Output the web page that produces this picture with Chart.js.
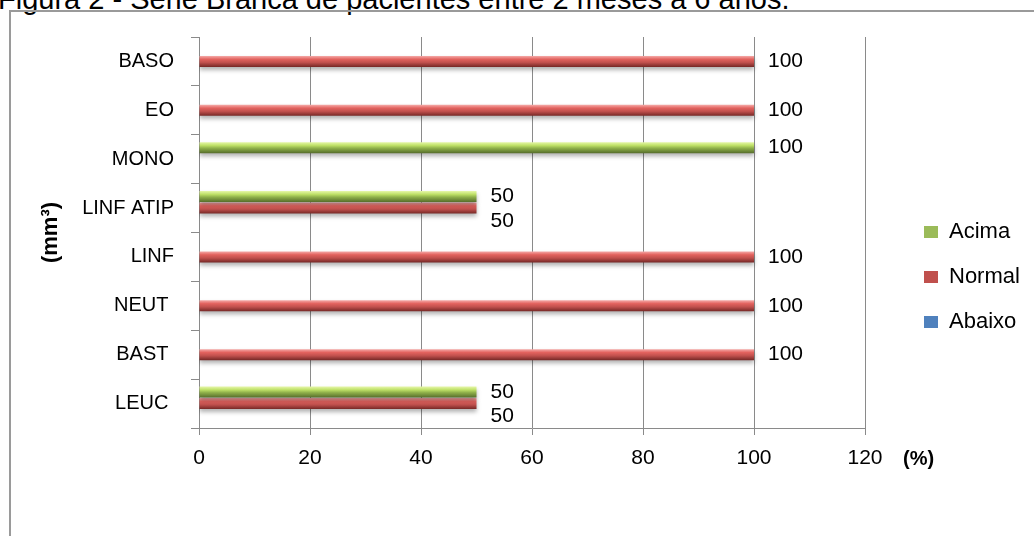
<!DOCTYPE html>
<html>
<head>
<meta charset="utf-8">
<script src="https://cdn.jsdelivr.net/npm/chart.js@4.4.1/dist/chart.umd.min.js"></script>
<style>
  html, body { margin: 0; padding: 0; background: #fff; width: 1034px; height: 536px; overflow: hidden; }
  #wrap { position: relative; width: 1034px; height: 536px; overflow: hidden; }
  #caption { position: absolute; left: -2px; top: -15px; font: 29px/29px 'Liberation Sans', Arial, sans-serif; color: #000; white-space: nowrap; }
  #frame { position: absolute; left: 9px; top: 10px; width: 1100px; height: 600px; border: 2px solid #9a9a9a; box-sizing: border-box; }
  #chart { position: absolute; left: 0; top: 0; }
</style>
</head>
<body>
<div id="wrap">
  <div id="caption">Figura 2 - Série Branca de pacientes entre 2 meses a 6 anos.</div>
  <div id="frame"></div>
  <canvas id="chart" width="1034" height="536"></canvas>
</div>
<script>
// Categories (top to bottom) and the percentage of patients in each range
const categories = ['BASO', 'EO', 'MONO', 'LINF ATIP', 'LINF', 'NEUT ', 'BAST ', 'LEUC '];
const acima  = [null, null, 100, 50, null, null, null, 50];
const normal = [100, 100, null, 50, 100, 100, 100, 50];
const abaixo = [null, null, null, null, null, null, null, null];
const seriesNames = ['Acima', 'Normal', 'Abaixo'];
const axisMin = 0, axisMax = 120, axisStep = 20;

const FONT = "'Liberation Sans', Arial, sans-serif";
Chart.defaults.font.family = FONT;
Chart.defaults.color = '#000';

const GRID = '#8a8a8a';

// cylinder-like shading for each series
const shades = {
  Acima:  [[0, '#e6f7a8'], [0.3, '#bddf66'], [0.55, '#8fb04a'], [1, '#566d2b']],
  Normal: [[0, '#f5aaa8'], [0.3, '#e2625e'], [0.6, '#c0504d'], [1, '#762826']],
  Abaixo: [[0, '#a9c6ec'], [0.3, '#5d8fd0'], [0.6, '#4f81bd'], [1, '#2b4c7a']]
};

const barStyle = {
  id: 'barStyle',
  beforeDatasetsDraw(chart) {
    const ctx = chart.ctx;
    chart.data.datasets.forEach((ds, di) => {
      const meta = chart.getDatasetMeta(di);
      meta.data.forEach(el => {
        const half = el.height / 2;
        const g = ctx.createLinearGradient(0, el.y - half, 0, el.y + half);
        shades[ds.label].forEach(([o, c]) => g.addColorStop(o, c));
        el.options = Object.assign({}, el.options, { backgroundColor: g });
      });
    });
    ctx.save();
    ctx.shadowColor = 'rgba(0,0,0,0.3)';
    ctx.shadowBlur = 4;
    ctx.shadowOffsetY = 3;
  },
  afterDatasetsDraw(chart) {
    const ctx = chart.ctx;
    ctx.restore();
    // value labels at the end of each bar
    ctx.save();
    ctx.font = '21px ' + FONT;
    ctx.fillStyle = '#000';
    ctx.textAlign = 'left';
    ctx.textBaseline = 'middle';
    chart.data.datasets.forEach((ds, di) => {
      const meta = chart.getDatasetMeta(di);
      meta.data.forEach((el, i) => {
        const v = ds.data[i];
        if (v === null || v === undefined) return;
        // nudge a label down when the bar above it in the group is also labelled
        let dy = 0;
        if (di > 0 && chart.data.datasets[di - 1].data[i] != null) dy = 13;
        ctx.fillText(String(v), el.x + 14, el.y + dy);
      });
    });
    ctx.restore();
  },
  afterDraw(chart) {
    const ctx = chart.ctx;
    const xs = chart.scales.x;
    ctx.save();
    ctx.font = 'bold 20px ' + FONT;
    ctx.fillStyle = '#000';
    ctx.textAlign = 'left';
    ctx.textBaseline = 'middle';
    ctx.fillText('(%)', xs.right + 38, xs.top + 31);
    ctx.restore();
  },
  afterLayout(chart) {
    const lg = chart.legend;
    if (!lg) return;
    const w = lg.width, h = lg.height;
    lg.left = 901; lg.right = lg.left + w;
    lg.top = 198; lg.bottom = lg.top + h;
  }
};

new Chart(document.getElementById('chart'), {
  type: 'bar',
  data: {
    labels: categories,
    datasets: [
      { label: seriesNames[0], data: acima,  backgroundColor: '#9bbb59', borderWidth: 0 },
      { label: seriesNames[1], data: normal, backgroundColor: '#c0504d', borderWidth: 0 },
      { label: seriesNames[2], data: abaixo, backgroundColor: '#4f81bd', borderWidth: 0 }
    ]
  },
  options: {
    indexAxis: 'y',
    responsive: false,
    animation: false,
    devicePixelRatio: 1,
    categoryPercentage: 0.706,
    barPercentage: 0.95,
    layout: { padding: { left: 0, top: 37, right: 169, bottom: 0 } },
    plugins: {
      legend: {
        position: 'chartArea',
        align: 'start',
        labels: {
          font: { size: 22, family: FONT },
          color: '#000',
          boxWidth: 14,
          boxHeight: 12,
          padding: 23
        }
      },
      tooltip: { enabled: false }
    },
    scales: {
      x: {
        min: axisMin,
        max: axisMax,
        ticks: { stepSize: axisStep, font: { size: 21 }, color: '#000', padding: 11, maxRotation: 0 },
        grid: { color: GRID, tickLength: 7, lineWidth: 1 },
        border: { color: GRID, width: 1 },
        afterFit: s => { s.height = 108; }
      },
      y: {
        ticks: { font: { size: 20 }, color: '#000', padding: 17 },
        grid: { drawOnChartArea: false, color: GRID, tickLength: 8, offset: true },
        border: { color: GRID, width: 1 },
        title: {
          display: true,
          text: '(mm³)',
          font: { size: 22, weight: 'bold' },
          color: '#000',
          padding: { top: 38, bottom: 0 }
        },
        afterFit: s => { s.width = 199; }
      }
    }
  },
  plugins: [barStyle]
});
</script>
</body>
</html>
